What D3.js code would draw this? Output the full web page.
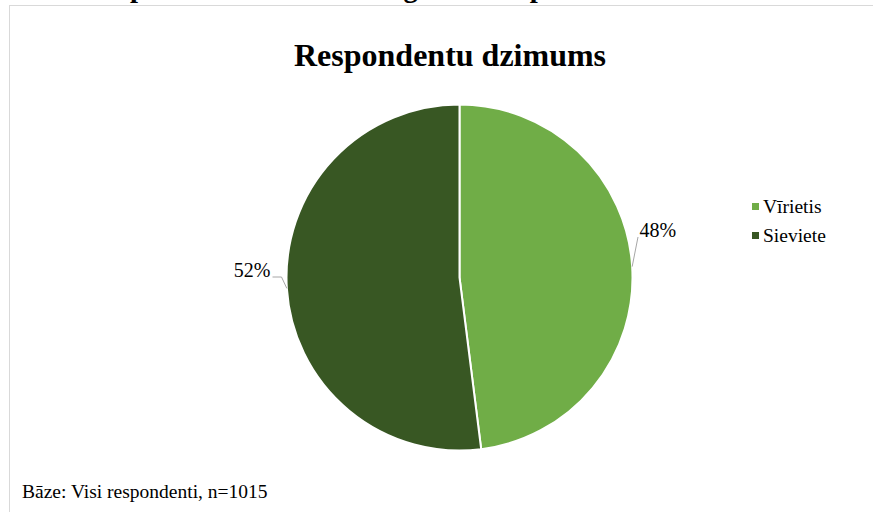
<!DOCTYPE html>
<html>
<head>
<meta charset="utf-8">
<script src="https://cdn.jsdelivr.net/npm/d3@7"></script>
<style>
  body { margin: 0; background: #fff; }
  svg { display: block; }
  svg text { font-family: "Liberation Serif", "DejaVu Serif", serif; }
</style>
</head>
<body>
<svg width="873" height="512"></svg>
<script>
// data
let categories = ["Vīrietis", "Sieviete"];
let shares = [48, 52];
let colors = ["#70ad47", "#385723"];
let title = "Respondentu dzimums";
let note = "Bāze: Visi respondenti, n=1015";
let pageHeading = "Respondentu sociāli demogrāfiskais profils";

let svg = d3.select("svg");
let serif = "Liberation Serif, DejaVu Serif, serif";

// heading of the page above, cut off by the picture edge
let head = svg.append("text")
  .attr("font-family", serif)
  .attr("y", 0).attr("font-size", 28).attr("font-weight", "bold")
  .attr("fill", "#000").text(pageHeading);
let p1 = head.node().getStartPositionOfChar(3).x;
let p2 = head.node().getStartPositionOfChar(35).x;
let fs = 28 * 400 / (p2 - p1);
head.attr("font-size", fs);
p1 = head.node().getStartPositionOfChar(3).x;
head.attr("x", 130 - p1).attr("y", 3 - 0.22 * fs);

// chart frame
svg.append("rect")
  .attr("x", 9.5).attr("y", 5.5).attr("width", 880).attr("height", 520)
  .attr("fill", "#fff").attr("stroke", "#d9d9d9");

svg.append("text")
  .attr("font-family", serif)
  .attr("x", 450).attr("y", 66).attr("text-anchor", "middle")
  .attr("font-size", 32).attr("font-weight", "bold").attr("fill", "#000")
  .text(title);

let cx = 459.5, cy = 277.5, r = 173;
let g = svg.append("g").attr("transform", `translate(${cx},${cy})`);

let pie = d3.pie().sort(null).value(d => d)(shares);
let arc = d3.arc().innerRadius(0).outerRadius(r);

g.selectAll("path.slice")
  .data(pie)
  .enter()
  .append("path")
  .attr("class", "slice")
  .attr("d", arc)
  .attr("fill", (d, i) => colors[i])
  .attr("stroke", "#fff").attr("stroke-width", 2);

// outside labels with leader lines
let labelPos = [[179, -40.5], [-189, -0.5]];
g.selectAll("g.lab")
  .data(pie)
  .enter()
  .append("g")
  .attr("class", "lab")
  .each(function(d, i) {
    let a = (d.startAngle + d.endAngle) / 2;
    let sx = Math.sin(a) * r, sy = -Math.cos(a) * r;
    let [lx, ly] = labelPos[i];
    let sel = d3.select(this);
    let pts = i == 0
      ? [[sx, sy], [lx - 0.5, ly]]
      : [[sx, sy], [lx + 11, ly], [lx + 2, ly]];
    sel.append("path")
      .attr("d", d3.line()(pts))
      .attr("fill", "none").attr("stroke", "#a6a6a6").attr("stroke-width", 1);
    sel.append("text")
      .attr("font-family", serif)
      .attr("x", i == 0 ? lx + 1 : lx)
      .attr("y", ly)
      .attr("text-anchor", i == 0 ? "start" : "end")
      .attr("font-size", 20).attr("fill", "#000")
      .text(d.data + "%");
  });

// legend
let leg = svg.append("g").attr("transform", "translate(752,203)");
leg.selectAll("g")
  .data(categories)
  .enter()
  .append("g")
  .attr("transform", (d, i) => `translate(0,${i * 29})`)
  .each(function(d, i) {
    d3.select(this).append("rect")
      .attr("x", 0).attr("y", 0).attr("width", 7).attr("height", 7)
      .attr("fill", colors[i]);
    d3.select(this).append("text")
      .attr("font-family", serif)
      .attr("x", 11).attr("y", 9.5)
      .attr("font-size", 19.5).attr("fill", "#000")
      .text(d);
  });

svg.append("text")
  .attr("font-family", serif)
  .attr("x", 22).attr("y", 498)
  .attr("font-size", 19.5).attr("fill", "#000")
  .text(note);
</script>
</body>
</html>
